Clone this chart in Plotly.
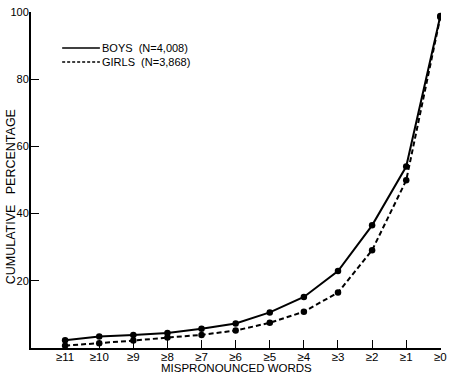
import plotly.graph_objects as go

categories = ["≥11", "≥10", "≥9", "≥8", "≥7", "≥6", "≥5", "≥4", "≥3", "≥2", "≥1", "≥0"]
boys = [2.3, 3.4, 3.9, 4.5, 5.7, 7.3, 10.6, 15.2, 22.9, 36.5, 54.0, 98.8]
girls = [0.7, 1.4, 2.2, 3.1, 3.9, 5.2, 7.5, 10.8, 16.5, 29.1, 49.9, 98.5]
y_ticks = [20, 40, 60, 80, 100]
legend_labels = ["BOYS  (N=4,008)", "GIRLS  (N=3,868)"]
x_title = "MISPRONOUNCED WORDS"
y_title = "CUMULATIVE   PERCENTAGE"

xs = list(range(len(categories)))
FONT = "Liberation Sans, Arial, sans-serif"

fig = go.Figure()
fig.add_trace(go.Scatter(x=xs, y=boys, mode="lines+markers",
                         line=dict(color="black", width=2),
                         marker=dict(color="black", size=6.5),
                         showlegend=False))
fig.add_trace(go.Scatter(x=xs, y=girls, mode="lines+markers",
                         line=dict(color="black", width=2, dash="5px,3px"),
                         marker=dict(color="black", size=6.5),
                         showlegend=False))

# legend drawn manually
for i, (lab, dash) in enumerate(zip(legend_labels, ["solid", "3px,2px"])):
    yy = 0.893 - i * 0.042
    fig.add_shape(type="line", xref="paper", yref="paper",
                  x0=0.076, x1=0.168, y0=yy, y1=yy,
                  line=dict(color="black", width=1.5, dash=dash))
    fig.add_annotation(xref="paper", yref="paper", x=0.168, y=yy,
                       text=lab, showarrow=False, xanchor="left", yanchor="middle",
                       font=dict(family=FONT, size=11, color="black"))

# axis titles
fig.add_annotation(xref="paper", yref="paper", x=-0.05, y=0.45, text=y_title,
                   textangle=-90, showarrow=False, xanchor="center", yanchor="middle",
                   font=dict(family=FONT, size=12.5, color="black"))
fig.add_annotation(xref="paper", yref="paper", x=0.5, y=-0.06, text=x_title,
                   showarrow=False, xanchor="center", yanchor="middle",
                   font=dict(family=FONT, size=11.5, color="black"))

fig.update_layout(
    width=450, height=379,
    margin=dict(l=31, r=9, t=12, b=31),
    paper_bgcolor="white", plot_bgcolor="white",
    font=dict(family=FONT, size=11, color="black"),
    xaxis=dict(range=[-1, 11.02], tickvals=xs, ticktext=categories, automargin=False,
               showgrid=False, zeroline=False, showline=True, linecolor="black", linewidth=2,
               ticks="inside", ticklen=8, tickcolor="black", tickwidth=1,
               ticklabelstandoff=-3, tickfont=dict(size=11.5)),
    yaxis=dict(range=[0, 100], tickvals=y_ticks, automargin=False,
               showgrid=False, zeroline=False, showline=True, linecolor="black", linewidth=2,
               ticks="inside", ticklen=8, tickcolor="black", tickwidth=1,
               ticklabelstandoff=-2, tickfont=dict(size=11)),
)

fig.write_html("out.html", config={"displayModeBar": False},
               post_script="document.body.style.margin='0';document.body.style.overflow='hidden';")
